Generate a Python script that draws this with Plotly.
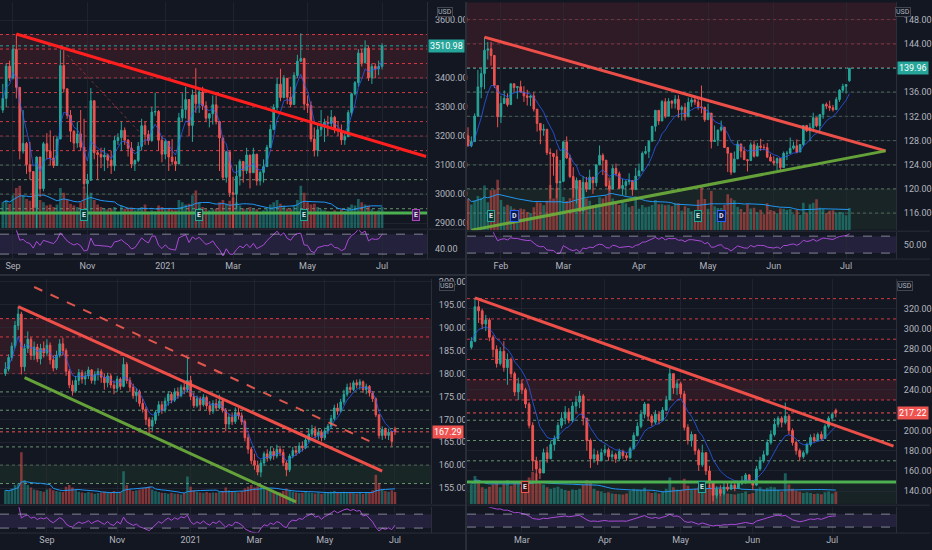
import numpy as np
import pandas as pd
import plotly.graph_objects as go

W, H = 932, 550
BG = "#131722"
UP, DOWN = "#26a69a", "#ef5350"
TXT = "#b2b5be"
FRAME = "#2a2e39"
GRID = "rgba(42,46,57,0.55)"
HOLIDAYS = ["2021-01-18", "2021-02-15", "2021-04-02", "2021-05-31", "2021-07-05"]

# ---------------- top left: 2-day bars ----------------
TL_START = "2020-08-24"
TL_OPEN0 = 3290
TL_LAST_OPEN = 3440
TL_CLOSE = [
    3330, 3441, 3401, 3499, 3368, 3149, 3175, 3102, 3078, 2954,
    3128, 3019, 3174, 3148, 3125, 3099, 3190, 3443, 3363, 3272,
    3217, 3176, 3207, 3162, 3036, 3048, 3322, 3143, 3137, 3128,
    3135, 3117, 3098, 3185, 3195, 3220, 3186, 3158, 3104, 3116,
    3165, 3236, 3206, 3185, 3283, 3285, 3186, 3138, 3182, 3128,
    3113, 3104, 3263, 3292, 3326, 3237, 3342, 3312, 3352, 3305,
    3262, 3277, 3308, 3250, 3194, 3058, 3146, 3005, 3000, 3062,
    3113, 3081, 3135, 3074, 3138, 3046, 3075, 3095, 3161, 3223,
    3299, 3379, 3333, 3399, 3334, 3309, 3409, 3458, 3467, 3311,
    3306, 3190, 3151, 3222, 3232, 3247, 3244, 3265, 3223, 3218,
    3187, 3198, 3281, 3346, 3384, 3486, 3453, 3503, 3401, 3440,
    3432, 3440, 3510.98]
TL_HIGH = [
    3380, 3451, 3460, 3514, 3552, 3360, 3290, 3180, 3180, 3040,
    3130, 3110, 3180, 3210, 3220, 3200, 3200, 3496, 3496, 3360,
    3290, 3220, 3250, 3290, 3260, 3070, 3366, 3320, 3150, 3160,
    3160, 3140, 3150, 3200, 3210, 3250, 3230, 3190, 3180, 3120,
    3180, 3260, 3250, 3220, 3300, 3350, 3290, 3200, 3190, 3150,
    3190, 3130, 3280, 3348, 3370, 3300, 3360, 3434, 3360, 3370,
    3320, 3280, 3340, 3340, 3240, 3170, 3150, 3130, 3060, 3100,
    3120, 3100, 3160, 3120, 3160, 3130, 3080, 3120, 3170, 3240,
    3310, 3400, 3432, 3410, 3400, 3370, 3420, 3480, 3554, 3470,
    3340, 3320, 3230, 3240, 3290, 3260, 3270, 3290, 3270, 3250,
    3240, 3210, 3290, 3350, 3390, 3500, 3500, 3530, 3510, 3450,
    3450, 3460, 3520]
TL_LOW = [
    3280, 3300, 3390, 3395, 3330, 3120, 3140, 3070, 3050, 2930,
    2871, 2990, 3010, 3120, 3100, 3090, 3100, 3190, 3350, 3260,
    3180, 3150, 3160, 3150, 3020, 2950, 3050, 3120, 3050, 3090,
    3080, 3090, 3070, 3080, 3170, 3150, 3170, 3130, 3090, 3080,
    3110, 3150, 3170, 3170, 3180, 3270, 3150, 3110, 3120, 3080,
    3100, 3080, 3110, 3250, 3260, 3200, 3180, 3280, 3280, 3290,
    3250, 3230, 3240, 3240, 3080, 3050, 3040, 2990, 2881, 2951,
    3030, 3040, 3070, 3020, 3080, 3030, 3030, 3040, 3100, 3160,
    3220, 3290, 3320, 3330, 3310, 3300, 3330, 3400, 3460, 3290,
    3280, 3180, 3130, 3130, 3200, 3180, 3200, 3230, 3210, 3200,
    3170, 3170, 3200, 3270, 3340, 3370, 3440, 3450, 3390, 3380,
    3400, 3410, 3430]
TL_VOLUME = [
    55, 60, 52, 70, 85, 90, 70, 62, 58, 72,
    80, 60, 55, 48, 50, 45, 50, 85, 75, 60,
    52, 48, 45, 55, 88, 70, 75, 60, 50, 45,
    42, 40, 42, 45, 30, 48, 42, 40, 44, 38,
    40, 45, 50, 35, 38, 36, 48, 45, 40, 42,
    40, 38, 60, 55, 50, 52, 70, 80, 55, 45,
    40, 38, 40, 42, 55, 60, 52, 58, 65, 55,
    48, 42, 40, 45, 42, 40, 35, 38, 42, 50,
    55, 60, 52, 48, 42, 40, 48, 60, 90, 75,
    55, 50, 52, 45, 40, 38, 36, 34, 38, 32,
    40, 36, 45, 50, 48, 62, 55, 50, 48, 40,
    36, 38, 45]
TL_TICK_DATES = ["2020-09-01", "2020-11-02", "2021-01-04", "2021-03-01", "2021-05-03", "2021-07-01"]
TL_TICK_TEXT = ["Sep", "Nov", "2021", "Mar", "May", "Jul"]
TL_PRICE_TICKS = [2900, 3000, 3100, 3200, 3300, 3400, 3600]
TL_RED_LEVELS = [3550, 3500, 3450, 3400, 3350, 3300, 3250, 3200, 3150]
TL_GREEN_LEVELS = [3100, 3050, 3000, 2950]
TL_RED_ZONE = [3400, 3552]
TL_SUPPORT = 2935
TL_TREND_RED = [("2020-09-02", 3552), ("2021-08-09", 3130)]
TL_TREND_FAINT = [("2020-10-14", 3480), ("2020-12-15", 3206)]
TL_EVENTS = [("2020-10-29", "E"), ("2021-02-02", "E"), ("2021-04-29", "E"), ("2021-07-29", "E")]

# ---------------- top right: daily bars ----------------
TR_START = "2021-01-15"
TR_OPEN0 = 128.8
TR_LAST_OPEN = 137.9
TR_CLOSE = [
    127.14, 127.83, 132.03, 136.87, 139.07, 142.92, 143.16, 142.06, 137.09, 131.96,
    134.14, 134.99, 133.94, 137.39, 136.76, 136.91, 136.01, 135.39, 135.13, 135.37,
    133.19, 130.84, 129.71, 129.87, 126.00, 125.86, 125.35, 120.99, 121.26, 127.79,
    125.12, 122.06, 120.13, 121.42, 116.36, 121.09, 119.98, 121.96, 121.03, 123.99,
    125.57, 124.76, 120.53, 119.99, 123.39, 122.54, 120.09, 120.59, 121.21, 121.39,
    119.90, 122.15, 123.00, 125.90, 126.21, 127.90, 130.36, 133.00, 131.24, 134.43,
    132.03, 134.50, 134.16, 134.84, 133.11, 133.50, 131.94, 134.32, 134.72, 134.39,
    133.58, 133.48, 131.46, 132.54, 127.85, 128.10, 129.74, 130.21, 126.85, 125.91,
    122.77, 124.97, 127.45, 126.27, 124.85, 124.69, 127.31, 125.43, 127.10, 126.90,
    126.85, 125.28, 124.61, 124.28, 125.06, 123.54, 125.89, 125.90, 126.74, 127.13,
    126.11, 127.35, 130.48, 129.64, 130.15, 131.79, 130.46, 132.30, 133.98, 133.70,
    133.41, 133.11, 134.78, 136.33, 136.96, 137.27, 139.96]
TR_HIGH = [
    130.2, 128.7, 132.5, 139.7, 139.85, 145.09, 144.3, 144.3, 141.99, 136.7,
    135.4, 136.3, 135.8, 137.4, 137.4, 136.96, 137.9, 136.99, 136.4, 135.5,
    136.0, 132.2, 130.0, 130.7, 129.7, 126.7, 125.6, 126.5, 124.8, 127.9,
    128.7, 125.7, 123.6, 121.9, 121.0, 122.1, 122.0, 123.2, 121.2, 124.0,
    127.2, 125.9, 123.2, 121.4, 123.9, 124.2, 122.9, 121.7, 121.5, 122.6,
    120.4, 123.5, 124.2, 126.2, 127.1, 128.0, 130.4, 133.0, 132.9, 134.7,
    135.0, 135.0, 134.7, 135.5, 135.5, 133.8, 134.2, 135.1, 135.1, 135.4,
    135.0, 137.1, 133.6, 134.1, 131.5, 130.5, 129.8, 131.3, 129.5, 126.3,
    124.6, 126.2, 127.9, 126.9, 127.0, 124.9, 127.7, 128.0, 127.6, 128.3,
    127.4, 127.6, 125.8, 125.4, 125.2, 124.9, 126.2, 126.3, 128.5, 127.8,
    128.2, 127.4, 130.5, 130.6, 130.9, 132.6, 131.5, 132.4, 134.1, 134.3,
    134.6, 133.9, 135.2, 136.5, 137.4, 137.3, 140.0]
TR_LOW = [
    127.0, 126.9, 128.5, 133.6, 135.0, 136.5, 141.4, 140.4, 136.7, 130.2,
    130.9, 134.6, 133.6, 134.6, 135.9, 134.9, 135.9, 134.4, 133.8, 133.7,
    132.8, 129.5, 127.4, 128.8, 125.6, 118.4, 122.2, 118.5, 121.2, 122.8,
    125.0, 121.8, 118.6, 117.6, 116.2, 119.5, 119.5, 121.3, 119.2, 120.4,
    124.7, 122.3, 120.3, 119.7, 120.3, 122.1, 120.1, 119.0, 118.9, 120.7,
    118.9, 121.6, 122.5, 123.1, 125.7, 125.1, 128.5, 129.5, 130.6, 131.9,
    131.7, 133.6, 133.3, 133.3, 131.8, 131.3, 131.3, 132.2, 133.6, 133.9,
    133.1, 132.5, 131.1, 131.8, 126.7, 127.9, 127.1, 129.5, 126.8, 122.8,
    122.3, 122.9, 125.9, 125.2, 124.8, 122.9, 125.1, 125.2, 125.8, 126.3,
    126.4, 125.1, 124.6, 123.9, 123.1, 123.1, 124.0, 124.8, 126.2, 126.5,
    125.9, 126.4, 127.1, 129.4, 127.9, 129.7, 130.2, 129.2, 131.6, 133.2,
    132.9, 132.8, 133.4, 134.4, 135.9, 135.8, 137.7]
TR_VOLUME = [
    111, 90, 104, 120, 114, 157, 98, 140, 142, 177,
    106, 83, 89, 84, 75, 71, 76, 73, 64, 60,
    80, 98, 96, 87, 103, 158, 111, 149, 164, 116,
    102, 112, 178, 153, 154, 129, 111, 103, 88, 92,
    115, 111, 121, 185, 111, 95, 88, 98, 94, 80,
    85, 118, 75, 88, 80, 83, 88, 106, 91, 91,
    87, 89, 84, 94, 94, 68, 84, 78, 66, 66,
    107, 151, 109, 75, 137, 84, 78, 78, 88, 126,
    112, 105, 81, 74, 63, 92, 76, 79, 63, 72,
    56, 94, 71, 67, 59, 76, 75, 71, 74, 56,
    71, 53, 96, 62, 91, 96, 108, 79, 74, 60,
    68, 70, 62, 64, 63, 52, 78]
TR_TICK_DATES = ["2021-02-01", "2021-03-01", "2021-04-01", "2021-05-03", "2021-06-01", "2021-07-01"]
TR_TICK_TEXT = ["Feb", "Mar", "Apr", "May", "Jun", "Jul"]
TR_PRICE_TICKS = [116, 120, 124, 128, 132, 136, 144, 148]
TR_RED_LEVELS = [148, 144, 140]
TR_GREEN_LEVELS = [136, 132, 128, 124, 120, 116]
TR_RED_ZONE = [140, 150.8]
TR_GREEN_ZONE = [113.3, 120]
TR_TREND_RED = [("2021-01-25", 145.1), ("2021-07-20", 126.3)]
TR_TREND_GREEN = [("2021-01-19", 113.2), ("2021-07-20", 126.3)]
TR_EVENTS = [("2021-01-27", "E"), ("2021-02-05", "D"), ("2021-04-28", "E"), ("2021-05-07", "D")]

# ---------------- bottom left: 2-day bars ----------------
BL_START = "2020-07-27"
BL_OPEN0 = 180.0
BL_LAST_OPEN = 167.9
BL_CLOSE = [
    181.0, 183.5, 186.0, 190.5, 193.0, 181.5, 185.5, 187.5, 184.0, 185.8,
    183.2, 185.5, 184.5, 186.2, 183.0, 181.2, 184.0, 186.5, 185.0, 180.5,
    177.5, 176.2, 178.5, 180.2, 178.8, 179.5, 180.8, 178.5, 179.8, 180.5,
    179.2, 178.0, 179.5, 177.5, 176.8, 178.8, 177.2, 182.0, 178.5, 177.0,
    175.2, 176.0, 173.5, 172.2, 170.0, 168.5, 169.8, 171.5, 173.2, 172.0,
    174.0, 175.5, 174.2, 176.0, 175.2, 177.0, 176.5, 178.5, 175.0, 173.0,
    174.5, 173.2, 174.8, 173.0, 171.8, 173.5, 172.5, 174.0, 172.0, 169.0,
    170.5, 169.5, 171.5, 170.8, 169.5, 166.0, 163.5, 161.0, 160.0, 158.5,
    160.5, 162.5, 161.5, 163.0, 162.0, 163.5, 162.8, 160.5, 159.0, 162.0,
    163.2, 162.8, 164.2, 163.8, 165.5, 166.8, 167.8, 166.5, 167.2, 166.0,
    167.5, 168.5, 170.2, 172.5, 171.8, 173.8, 175.5, 177.0, 176.5, 178.0,
    177.5, 178.2, 176.5, 177.2, 175.8, 174.5, 171.0, 166.5, 167.8, 166.5,
    167.2, 165.2, 167.29]
BL_HIGH = [
    182.5, 184.2, 186.8, 191.5, 194.6, 193.5, 186.5, 189.2, 188.0, 187.0,
    186.5, 186.5, 187.0, 187.5, 186.8, 184.0, 185.0, 187.5, 187.8, 185.5,
    181.0, 178.5, 179.5, 181.0, 180.8, 180.5, 181.5, 181.0, 180.5, 181.2,
    181.0, 180.0, 180.2, 180.0, 178.5, 179.5, 179.2, 183.5, 182.5, 179.2,
    177.8, 176.8, 176.5, 174.5, 172.8, 170.5, 170.5, 172.0, 174.0, 174.0,
    174.8, 176.2, 176.0, 176.8, 177.0, 177.6, 178.0, 183.5, 179.5, 175.8,
    175.2, 175.0, 175.5, 175.2, 174.0, 174.2, 174.5, 175.4, 174.5, 172.5,
    171.2, 171.5, 172.6, 172.5, 171.5, 170.0, 166.8, 164.0, 162.5, 161.0,
    161.2, 163.0, 163.5, 164.0, 163.8, 164.5, 164.2, 163.5, 161.0, 162.5,
    164.0, 164.2, 165.0, 165.2, 166.0, 168.0, 168.8, 168.5, 168.0, 167.8,
    168.2, 169.0, 171.0, 173.2, 173.5, 174.5, 176.5, 177.8, 178.0, 178.5,
    178.7, 178.8, 178.5, 177.8, 177.5, 176.2, 174.8, 171.2, 168.5, 168.2,
    168.0, 167.5, 168.4]
BL_LOW = [
    179.5, 180.5, 182.8, 185.5, 189.5, 179.8, 180.5, 184.5, 183.0, 183.0,
    182.5, 182.0, 183.5, 183.8, 182.0, 180.5, 180.8, 183.5, 184.0, 179.5,
    176.8, 175.2, 175.8, 177.5, 177.8, 177.5, 178.8, 177.8, 177.6, 178.5,
    178.0, 176.5, 177.0, 176.8, 175.5, 176.0, 176.5, 177.0, 177.8, 176.0,
    174.5, 173.8, 172.8, 171.5, 168.8, 166.7, 167.5, 169.0, 170.8, 171.2,
    171.5, 173.0, 173.5, 173.8, 174.5, 174.8, 175.5, 176.0, 174.2, 172.5,
    172.6, 172.0, 172.8, 172.2, 171.0, 171.2, 171.8, 172.2, 171.5, 167.4,
    168.0, 168.8, 169.0, 170.0, 168.8, 165.2, 162.5, 160.2, 159.0, 157.8,
    157.4, 159.8, 160.8, 161.0, 161.2, 161.5, 162.0, 159.8, 157.6, 158.5,
    161.5, 162.0, 162.5, 163.0, 163.5, 165.0, 166.2, 165.8, 165.5, 165.2,
    165.5, 166.8, 168.0, 169.8, 171.0, 171.5, 173.2, 175.0, 175.8, 176.2,
    176.8, 176.5, 175.8, 175.5, 175.0, 173.8, 170.5, 165.8, 165.5, 165.8,
    165.5, 164.1, 166.6]
BL_VOLUME = [
    40, 38, 45, 55, 60, 150, 70, 55, 48, 42,
    40, 38, 36, 42, 45, 40, 38, 36, 35, 50,
    55, 48, 40, 36, 34, 32, 35, 33, 30, 32,
    34, 36, 33, 35, 38, 32, 36, 95, 55, 42,
    38, 40, 42, 45, 48, 50, 42, 38, 35, 33,
    32, 30, 33, 31, 30, 28, 32, 80, 50, 40,
    36, 34, 33, 35, 32, 34, 33, 35, 38, 48,
    40, 36, 35, 34, 38, 45, 50, 55, 48, 52,
    55, 45, 40, 38, 36, 35, 34, 38, 45, 40,
    36, 34, 32, 33, 35, 34, 32, 31, 33, 30,
    32, 34, 36, 38, 35, 34, 36, 33, 32, 34,
    31, 33, 30, 32, 35, 40, 85, 60, 42, 38,
    36, 40, 35]
BL_TICK_DATES = ["2020-09-01", "2020-11-02", "2021-01-04", "2021-03-01", "2021-05-03", "2021-07-01"]
BL_TICK_TEXT = ["Sep", "Nov", "2021", "Mar", "May", "Jul"]
BL_PRICE_TICKS = [155, 160, 165, 170, 175, 180, 185, 190, 195, 200]
BL_RED_LEVELS = [192, 188, 184, 180]
BL_GREEN_LEVELS = [176, 172, 168, 164, 160, 156]
BL_RED_ZONE = [180, 192]
BL_GREEN_ZONE = [156, 160]
BL_TREND_RED = [("2020-08-05", 194.6), ("2021-06-22", 158.7)]
BL_TREND_DASH = [("2020-08-20", 198.9), ("2021-06-16", 164.6)]
BL_TREND_GREEN = [("2020-08-11", 179.1), ("2021-04-07", 152.0)]

# ---------------- bottom right: daily bars ----------------
BR_START = "2021-02-08"
BR_OPEN0 = 282
BR_LAST_OPEN = 219.8
BR_CLOSE = [
    288, 322, 318, 305, 309, 292, 280, 266, 278, 262,
    270, 256, 238, 246, 240, 226, 205, 170, 162, 158,
    178, 172, 186, 192, 205, 212, 218, 210, 224, 228,
    234, 212, 190, 172, 176, 170, 178, 181, 174, 176,
    172, 179, 175, 173, 182, 195, 204, 216, 226, 214,
    208, 216, 210, 220, 230, 256, 242, 246, 236, 203,
    190, 196, 180, 166, 178, 160, 148, 136, 142, 138,
    144, 142, 146, 143, 148, 150, 156, 150, 146, 162,
    170, 176, 188, 196, 206, 212, 208, 214, 200, 188,
    180, 174, 178, 186, 193, 190, 196, 192, 204, 212,
    216, 217.22]
BR_HIGH = [
    292, 331, 328, 320, 314, 311, 294, 284, 282, 288,
    276, 272, 258, 252, 250, 242, 228, 208, 174, 170,
    182, 184, 190, 195, 208, 218, 224, 222, 228, 234,
    239, 236, 208, 192, 182, 180, 182, 186, 183, 180,
    178, 182, 181, 178, 184, 198, 208, 220, 228, 226,
    216, 220, 219, 223, 234, 262, 254, 250, 248, 239,
    206, 199, 194, 182, 186, 178, 165, 150, 145, 146,
    148, 149, 150, 148, 150, 155, 158, 157, 151, 165,
    174, 180, 191, 200, 212, 214, 214, 227.5, 216, 202,
    190, 182, 180, 188, 196, 197, 198, 199, 206, 214,
    218, 221.6]
BR_LOW = [
    280, 287, 306, 300, 298, 288, 272, 262, 264, 258,
    245, 252, 234, 230, 236, 222, 202, 160, 148, 152,
    160, 168, 176, 180, 190, 202, 206, 207, 208, 218,
    222, 205, 180, 163, 168, 166, 170, 175, 170, 171,
    168, 170, 172, 170, 172, 181, 194, 202, 212, 210,
    204, 206, 206, 209, 219, 230, 236, 235, 232, 200,
    186, 184, 176, 160, 164, 156, 143, 130, 133, 135,
    136, 140, 141, 140, 142, 146, 147, 148, 141, 145,
    160, 168, 175, 186, 194, 203, 203, 206, 196, 185,
    176, 170, 172, 176, 184, 188, 189, 190, 192, 202,
    209, 213]
BR_VOLUME = [
    70, 100, 85, 60, 55, 62, 70, 75, 60, 72,
    85, 65, 80, 75, 62, 70, 95, 115, 110, 80,
    70, 60, 55, 58, 62, 55, 50, 48, 52, 50,
    55, 70, 85, 75, 55, 48, 45, 40, 42, 38,
    36, 35, 34, 38, 48, 55, 52, 50, 58, 45,
    40, 42, 38, 44, 55, 95, 60, 52, 50, 90,
    65, 50, 55, 60, 52, 58, 70, 75, 55, 45,
    40, 38, 36, 34, 38, 40, 45, 36, 40, 55,
    60, 52, 58, 62, 60, 50, 45, 110, 70, 55,
    48, 44, 40, 42, 40, 36, 38, 35, 42, 45,
    38, 44]
BR_TICK_DATES = ["2021-03-01", "2021-04-01", "2021-05-03", "2021-06-01", "2021-07-01"]
BR_TICK_TEXT = ["Mar", "Apr", "May", "Jun", "Jul"]
BR_PRICE_TICKS = [140, 160, 180, 200, 240, 260, 280, 300, 320]
BR_RED_LEVELS = [330, 310, 290, 270, 250, 230]
BR_GREEN_LEVELS = [210, 190, 170]
BR_RED_ZONE = [230, 250]
BR_GREEN_ZONE = [127.5, 149]
BR_SUPPORT = 149
BR_TREND_RED = [("2021-02-09", 330.8), ("2021-07-27", 184.5)]
BR_EVENTS = [("2021-03-02", "E"), ("2021-05-11", "E")]

# line styles
RED_BRIGHT = dict(color="#ff1f1f", width=3)
RED_SOFT = dict(color="rgba(255,84,76,0.92)", width=3)
RED_DASH = dict(color="rgba(255,96,84,0.85)", width=2, dash="dash")
RED_FAINT = dict(color="rgba(239,83,80,0.45)", width=1, dash="dot")
GREEN_SOFT = dict(color="rgba(110,176,60,0.9)", width=3)
GREEN_FLAT = dict(color="#4caf50", width=3)
EV_TEAL = ("#0c3a36", "#26a69a")
EV_BLUE = ("#0d1a4d", "#2962ff")
EV_RED = ("#3d1518", "#ef5350")
EV_PURPLE = ("#3b1a55", "#ab47bc")

PANELS = [
    dict(start=TL_START, freq="2B", open0=TL_OPEN0, last_open=TL_LAST_OPEN, close=TL_CLOSE, high=TL_HIGH,
         low=TL_LOW, volume=TL_VOLUME, tick_dates=TL_TICK_DATES, tick_text=TL_TICK_TEXT,
         price_ticks=TL_PRICE_TICKS, rsi_ticks=[40], red_levels=TL_RED_LEVELS, green_levels=TL_GREEN_LEVELS,
         zones=[(TL_RED_ZONE, "rgba(242,54,69,0.13)")], supports=[(TL_SUPPORT, GREEN_FLAT)],
         trends=[(TL_TREND_FAINT, RED_FAINT), (TL_TREND_RED, RED_BRIGHT)],
         events=TL_EVENTS, ev_colors=[EV_TEAL, EV_TEAL, EV_TEAL, EV_PURPLE],
         ema=5, vma=10, rsi_n=7),
    dict(start=TR_START, freq="C", open0=TR_OPEN0, last_open=TR_LAST_OPEN, close=TR_CLOSE, high=TR_HIGH,
         low=TR_LOW, volume=TR_VOLUME, tick_dates=TR_TICK_DATES, tick_text=TR_TICK_TEXT,
         price_ticks=TR_PRICE_TICKS, rsi_ticks=[50], red_levels=TR_RED_LEVELS, green_levels=TR_GREEN_LEVELS,
         zones=[(TR_RED_ZONE, "rgba(242,54,69,0.13)"), (TR_GREEN_ZONE, "rgba(76,175,80,0.09)")],
         supports=[], trends=[(TR_TREND_RED, RED_SOFT), (TR_TREND_GREEN, GREEN_SOFT)],
         events=TR_EVENTS, ev_colors=[EV_TEAL, EV_BLUE, EV_TEAL, EV_BLUE],
         ema=9, vma=20, rsi_n=14),
    dict(start=BL_START, freq="2B", open0=BL_OPEN0, last_open=BL_LAST_OPEN, close=BL_CLOSE, high=BL_HIGH,
         low=BL_LOW, volume=BL_VOLUME, tick_dates=BL_TICK_DATES, tick_text=BL_TICK_TEXT,
         price_ticks=BL_PRICE_TICKS, rsi_ticks=[], red_levels=BL_RED_LEVELS, green_levels=BL_GREEN_LEVELS,
         zones=[(BL_RED_ZONE, "rgba(242,54,69,0.13)"), (BL_GREEN_ZONE, "rgba(76,175,80,0.10)")],
         supports=[], trends=[(BL_TREND_DASH, RED_DASH), (BL_TREND_RED, RED_SOFT), (BL_TREND_GREEN, GREEN_SOFT)],
         events=[], ev_colors=[], ema=5, vma=10, rsi_n=7),
    dict(start=BR_START, freq="C", open0=BR_OPEN0, last_open=BR_LAST_OPEN, close=BR_CLOSE, high=BR_HIGH,
         low=BR_LOW, volume=BR_VOLUME, tick_dates=BR_TICK_DATES, tick_text=BR_TICK_TEXT,
         price_ticks=BR_PRICE_TICKS, rsi_ticks=[], red_levels=BR_RED_LEVELS, green_levels=BR_GREEN_LEVELS,
         zones=[(BR_RED_ZONE, "rgba(242,54,69,0.13)"), (BR_GREEN_ZONE, "rgba(76,175,80,0.08)")],
         supports=[(BR_SUPPORT, GREEN_FLAT)], trends=[(BR_TREND_RED, RED_SOFT)],
         events=BR_EVENTS, ev_colors=[EV_RED, EV_TEAL], ema=9, vma=20, rsi_n=14),
]

# pixel geometry of the 2x2 layout and the visible ranges
GEOM = [
    dict(x=(0, 428), price=(0, 227), rsi=(229, 258), right=466, usd=(446, 5), ev_y=0.03),
    dict(x=(468, 898), price=(0, 229), rsi=(231, 258), right=932, usd=(913, 5), ev_y=0.035),
    dict(x=(0, 432), price=(278, 504), rsi=(507, 533), right=466, usd=(448, 285), ev_y=0.05),
    dict(x=(468, 898), price=(278, 504), rsi=(507, 533), right=932, usd=(915, 285), ev_y=0.05),
]
VIEW = [
    dict(x=[-0.83, 125.3], p=[2883, 3662], v=[0, 480], r=[20, 78]),
    dict(x=[-0.32, 130.2], p=[113.2, 150.9], v=[0, 800], r=[15.9, 79.4]),
    dict(x=[-1.69, 133.3], p=[151.5, 200.65], v=[0, 650], r=[15.7, 90]),
    dict(x=[-1.21, 117.7], p=[127.2, 349.4], v=[0, 800], r=[11.5, 91.5]),
]


def fx(px):
    return px / W


def fy(py):
    return 1 - py / H


def akey(a):
    return a[0] + "axis" + a[1:]


def rsi(close, n):
    d = pd.Series(close).diff()
    up = d.clip(lower=0).ewm(alpha=1 / n, adjust=False).mean()
    dn = (-d.clip(upper=0)).ewm(alpha=1 / n, adjust=False).mean()
    return (100 - 100 / (1 + up / dn)).values


fig = go.Figure()
layout = dict(width=W, height=H, margin=dict(l=0, r=0, t=0, b=0), paper_bgcolor=BG, plot_bgcolor=BG,
              showlegend=False, hovermode=False,
              font=dict(family="Roboto, 'Noto Sans', sans-serif", size=9, color=TXT))
shapes, annos = [], []
tickfont = dict(family="Roboto, sans-serif", size=9, color=TXT)

for p, (d, g, v) in enumerate(zip(PANELS, GEOM, VIEW)):
    xa = "x" if p == 0 else f"x{2 * p + 1}"
    xr = f"x{2 * p + 2}"
    yv = "y" if p == 0 else f"y{3 * p + 1}"
    yp = f"y{3 * p + 2}"
    yr = f"y{3 * p + 3}"

    close = np.array(d["close"], float)
    n = len(close)
    opn = np.concatenate([[d["open0"]], close[:-1]])
    opn[-1] = d["last_open"]
    high = np.maximum(np.array(d["high"], float), np.maximum(opn, close))
    low = np.minimum(np.array(d["low"], float), np.minimum(opn, close))
    vol = np.array(d["volume"], float)
    if d["freq"] == "2B":
        dates = pd.bdate_range(d["start"], periods=n + 40, freq="2B")
    else:
        dates = pd.bdate_range(d["start"], periods=n + 40, freq="C", holidays=HOLIDAYS)

    def pos(day):
        return int(dates.searchsorted(pd.Timestamp(day)))

    idx = np.arange(n)
    up = close >= opn
    tick_pos = [pos(t) for t in d["tick_dates"]]

    # volume (base axis, drawn under the candles)
    fig.add_trace(go.Bar(x=idx, y=vol, xaxis=xa, yaxis=yv, marker_line_width=0,
                         marker_color=np.where(up, "rgba(38,166,154,0.5)", "rgba(239,83,80,0.5)")))
    fig.add_trace(go.Scatter(x=idx, y=pd.Series(vol).rolling(d["vma"], min_periods=1).mean(),
                             xaxis=xa, yaxis=yv, mode="lines", line=dict(color="#2196f3", width=1)))
    # candles
    fig.add_trace(go.Candlestick(x=idx, open=opn, high=high, low=low, close=close, xaxis=xa, yaxis=yp,
                                 whiskerwidth=0,
                                 increasing=dict(line=dict(color=UP, width=1), fillcolor=UP),
                                 decreasing=dict(line=dict(color=DOWN, width=1), fillcolor=DOWN)))
    fig.add_trace(go.Scatter(x=idx, y=pd.Series(close).ewm(span=d["ema"], adjust=False).mean(),
                             xaxis=xa, yaxis=yp, mode="lines", line=dict(color="rgba(41,98,255,0.75)", width=1)))
    # rsi
    fig.add_trace(go.Scatter(x=idx, y=rsi(close, d["rsi_n"]), xaxis=xr, yaxis=yr, mode="lines",
                             line=dict(color="#a94bd6", width=1)))

    xdom = [fx(g["x"][0]), fx(g["x"][1])]
    layout[akey(xa)] = dict(domain=xdom, range=v["x"], anchor=yv, tickvals=tick_pos, showticklabels=False,
                            showgrid=True, gridcolor=GRID, zeroline=False, rangeslider=dict(visible=False))
    layout[akey(xr)] = dict(domain=xdom, matches=xa, anchor=yr, tickvals=tick_pos, ticktext=d["tick_text"],
                            showgrid=True, gridcolor=GRID, zeroline=False, tickfont=tickfont,
                            rangeslider=dict(visible=False))
    layout[akey(yv)] = dict(domain=[fy(g["price"][1]), fy(g["price"][0])], range=v["v"], anchor=xa,
                            visible=False)
    layout[akey(yp)] = dict(overlaying=yv, anchor=xa, side="right", range=v["p"], tickvals=d["price_ticks"],
                            tickformat=".2f", showgrid=True, gridcolor=GRID, zeroline=False, tickfont=tickfont,
                            ticklabelstandoff=5, showline=True, linecolor=FRAME)
    layout[akey(yr)] = dict(domain=[fy(g["rsi"][1]), fy(g["rsi"][0])], range=v["r"], anchor=xr, side="right",
                            tickvals=d["rsi_ticks"], tickformat=".2f", showgrid=False, zeroline=False,
                            tickfont=tickfont, ticklabelstandoff=5, showline=True, linecolor=FRAME)

    xdomref = f"{xa} domain"
    # zones and dotted levels
    for (z0, z1), col in d["zones"]:
        shapes.append(dict(type="rect", xref=xdomref, x0=0, x1=1, yref=yp, y0=z0, y1=z1,
                           fillcolor=col, line_width=0, layer="below"))
    for lv in d["red_levels"]:
        shapes.append(dict(type="line", xref=xdomref, x0=0, x1=1, yref=yp, y0=lv, y1=lv, layer="below",
                           line=dict(color="rgba(242,64,72,0.85)", width=1, dash="dot")))
    for lv in d["green_levels"]:
        shapes.append(dict(type="line", xref=xdomref, x0=0, x1=1, yref=yp, y0=lv, y1=lv, layer="below",
                           line=dict(color="rgba(140,200,140,0.7)", width=1, dash="dot")))
    last_col = UP if up[-1] else DOWN
    shapes.append(dict(type="line", xref=xdomref, x0=0, x1=1, yref=yp, y0=close[-1], y1=close[-1],
                       layer="below", line=dict(color=last_col, width=1, dash="dot")))
    for lv, st in d["supports"]:
        shapes.append(dict(type="line", xref=xdomref, x0=0, x1=1, yref=yp, y0=lv, y1=lv, line=st))
    for (a, b), st in d["trends"]:
        shapes.append(dict(type="line", xref=xa, yref=yp, x0=pos(a[0]), y0=a[1], x1=pos(b[0]), y1=b[1], line=st))

    # rsi band
    rdom = f"{xr} domain"
    shapes.append(dict(type="rect", xref=rdom, x0=0, x1=1, yref=yr, y0=30, y1=70,
                       fillcolor="rgba(126,87,194,0.16)", line_width=0, layer="below"))
    for lv in (30, 70):
        shapes.append(dict(type="line", xref=rdom, x0=0, x1=1, yref=yr, y0=lv, y1=lv,
                           line=dict(color="rgba(200,200,215,0.6)", width=1, dash="dash")))

    # pane frames
    for py in (g["price"][1] + 1, g["rsi"][1]):
        shapes.append(dict(type="line", xref="paper", yref="paper", x0=fx(g["x"][0]), x1=fx(g["right"]),
                           y0=fy(py), y1=fy(py), line=dict(color=FRAME, width=1)))

    # events
    for (day, letter), (fill, edge) in zip(d["events"], d["ev_colors"]):
        annos.append(dict(x=pos(day), xref=xa, y=g["ev_y"], yref=f"{yp} domain", text=f"<b>{letter}</b>",
                          showarrow=False, font=dict(size=7, color="#e0e3eb"), bgcolor=fill,
                          bordercolor=edge, borderwidth=1, borderpad=1))
    # last price label and currency tag
    annos.append(dict(x=fx(g["x"][1]), xref="paper", xanchor="left", xshift=1, y=close[-1], yref=yp,
                      text=f"{close[-1]:.2f}", showarrow=False, bgcolor=last_col, borderpad=1,
                      font=dict(size=9, color="#ffffff", family="Roboto, sans-serif")))
    annos.append(dict(x=fx(g["usd"][0]), y=fy(g["usd"][1]), xref="paper", yref="paper", text="USD",
                      showarrow=False, bgcolor=BG, bordercolor="#434651", borderwidth=1, borderpad=0,
                      font=dict(size=7, color=TXT)))

# panel separators
shapes.append(dict(type="line", xref="paper", yref="paper", x0=fx(467), x1=fx(467), y0=0, y1=1,
                   line=dict(color=FRAME, width=2)))
shapes.append(dict(type="line", xref="paper", yref="paper", x0=0, x1=1, y0=fy(274), y1=fy(274),
                   line=dict(color=FRAME, width=2)))

layout["shapes"] = shapes
layout["annotations"] = annos
fig.update_layout(**layout)
fig.write_html("out.html", config={"displayModeBar": False},
               post_script="document.body.style.margin='0px';")
